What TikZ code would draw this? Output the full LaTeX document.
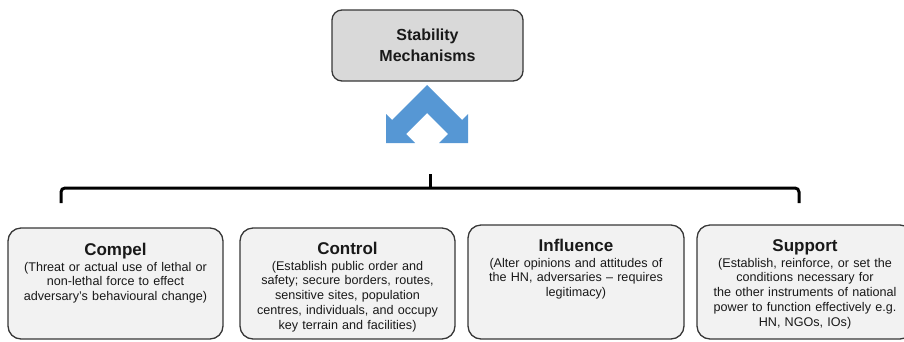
\documentclass[tikz,border=0pt]{standalone}
\usepackage{fontspec}
\setmainfont{Liberation Sans}
\definecolor{arrowblue}{RGB}{86,151,212}
\definecolor{edgegray}{RGB}{55,55,55}
\definecolor{topfill}{RGB}{217,217,217}
\definecolor{boxfill}{RGB}{242,242,242}
\definecolor{ink}{RGB}{25,25,25}
\begin{document}
\begin{tikzpicture}[x=1pt,y=-1pt,
  headbox/.style={draw=edgegray,line width=1.3pt,fill=topfill,rounded corners=10pt,
    minimum width=191pt,minimum height=71pt,inner sep=0pt,align=center,text=ink,
    font=\fontsize{16}{21}\selectfont\bfseries},
  mechbox/.style={draw=edgegray,line width=1.3pt,fill=boxfill,rounded corners=13pt,inner sep=0pt},
  mechtitle/.style={anchor=base,inner sep=0pt,text=ink,font=\fontsize{17}{20}\selectfont\bfseries},
  mechtext/.style={anchor=base,inner sep=0pt,text=ink,text width=212pt,align=center,
    font=\fontsize{12.6}{14.8}\selectfont},
  bracket/.style={line width=3pt,rounded corners=4pt,black}]
\useasboundingbox (0,0) rectangle (904,341);

% heading box
\node[headbox] (head) at (427.5,45.5) {Stability\\Mechanisms};

% double arrow fanning out below the heading
\fill[arrowblue] (427,85) -- (392,120) -- (386,114) -- (386,143) -- (415,143)
  -- (406,134) -- (427,113) -- (448,134) -- (439,143) -- (468,143)
  -- (468,114) -- (462,120) -- cycle;

% bracket grouping the four mechanisms
\coordinate (tick) at (430,174);
\coordinate (mid) at (430,188);
\coordinate (legL) at (61,203);
\coordinate (legR) at (799,203);
\draw[bracket] (legL) -- (legL |- mid) -- (legR |- mid) -- (legR);
\draw[line width=3pt,black] (mid) -- (tick);

% mechanism boxes
\node[mechbox,minimum width=215pt,minimum height=111pt] (compel) at (115.5,283.5) {};
\node[mechbox,minimum width=215pt,minimum height=111pt] (control) at (347.5,283.5) {};
\node[mechbox,minimum width=216pt,minimum height=114pt] (influence) at (576,282) {};
\node[mechbox,minimum width=216pt,minimum height=114pt] (support) at (805,282) {};

% box contents
\node[mechtitle] (compelT) at (115.5,255) {Compel};
\node[mechtext] (compelD) at (115.5,271) {(Threat or actual use of lethal or\\non-lethal force to effect\\adversary’s behavioural change)};

\node[mechtitle] (controlT) at (347.5,254) {Control};
\node[mechtext] (controlD) at (347.5,270) {(Establish public order and\\safety; secure borders, routes,\\sensitive sites, population\\centres, individuals, and occupy\\key terrain and facilities)};

\node[mechtitle] (influenceT) at (576,251) {Influence};
\node[mechtext] (influenceD) at (576,267) {(Alter opinions and attitudes of\\the HN, adversaries – requires\\legitimacy)};

\node[mechtitle] (supportT) at (805,251) {Support};
\node[mechtext] (supportD) at (805,267) {(Establish, reinforce, or set the\\conditions necessary for\\the other instruments of national\\power to function effectively e.g.\\HN, NGOs, IOs)};
\end{tikzpicture}
\end{document}
